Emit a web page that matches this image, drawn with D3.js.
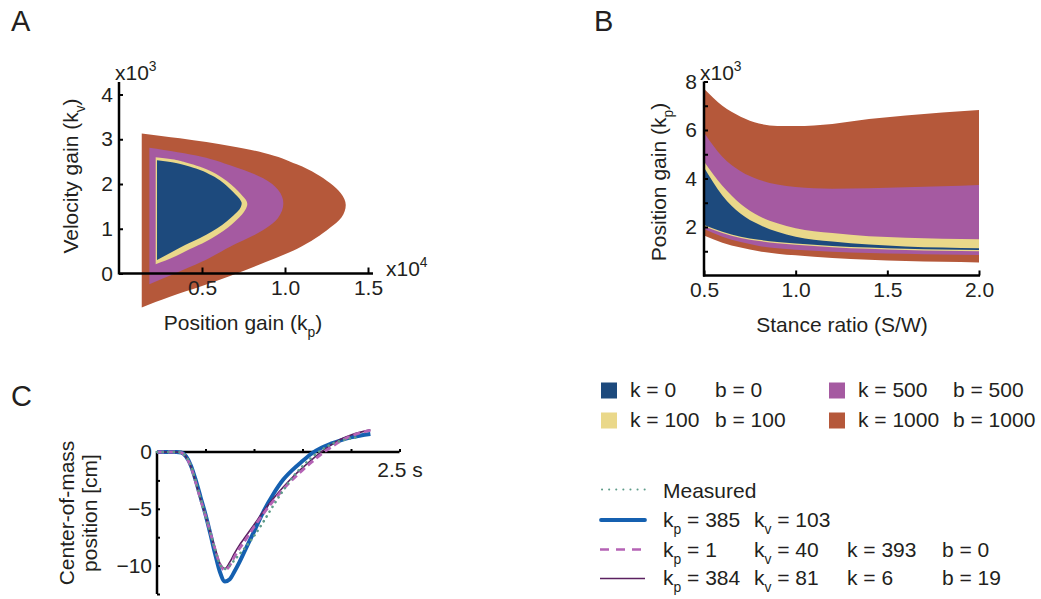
<!DOCTYPE html>
<html><head><meta charset="utf-8">
<script src="https://cdn.jsdelivr.net/npm/d3@7"></script>
<style>
body{margin:0;background:#fff}
text{font-family:"Liberation Sans",Arial,sans-serif;fill:#231f20}
</style>
</head><body><svg id="c" width="1041" height="599"></svg>
<script>
// ---------- DATA ----------
// Panel A : stability regions (kp in x10^4, kv in x10^3), boundary from top-left corner through tip to bottom-left corner
const orangeA_kp = [0.137,0.367,0.669,0.869,1.071,1.271,1.335,1.366,1.34,1.271,1.071,0.88,0.717,0.5,0.307,0.137];
const orangeA_kv = [3.13,3.02,2.85,2.70,2.44,2.02,1.8,1.53,1.25,1.02,0.55,0.25,0.01,-0.28,-0.52,-0.76];
const purpleA_kp = [0.183,0.498,0.669,0.869,0.958,0.99,0.958,0.869,0.669,0.498,0.337,0.183];
const purpleA_kv = [2.81,2.61,2.42,2.13,1.87,1.57,1.24,0.97,0.60,0.26,0.0,-0.24];
const yellowA_kp = [0.221,0.319,0.398,0.488,0.560,0.621,0.675,0.717,0.747,0.765,0.773,0.762,0.741,0.705,0.657,0.596,0.524,0.428,0.337,0.221];
const yellowA_kv = [2.597,2.552,2.487,2.384,2.273,2.139,1.989,1.844,1.721,1.642,1.553,1.430,1.318,1.184,1.028,0.872,0.715,0.547,0.380,0.206];
const blueA_kp = [0.229,0.319,0.398,0.488,0.560,0.621,0.669,0.705,0.729,0.739,0.729,0.705,0.669,0.621,0.560,0.488,0.398,0.319,0.229];
const blueA_kv = [2.530,2.485,2.420,2.313,2.190,2.045,1.888,1.754,1.654,1.569,1.453,1.352,1.229,1.084,0.939,0.793,0.637,0.480,0.302];
const ticksA_x = [0.5,1.0,1.5];
const ticksA_y = [0,1,2,3,4];

// Panel B : kp range (x10^3) vs stance ratio
const stanceB = [0.5,0.6,0.7,0.8,0.9,1.0,1.2,1.4,1.6,1.8,2.0];
const orangeB_hi = [7.7,7.0,6.55,6.27,6.17,6.16,6.25,6.45,6.6,6.72,6.82];
const orangeB_lo = [1.65,1.35,1.15,1.0,0.9,0.83,0.72,0.65,0.6,0.57,0.54];
const purpleB_hi = [5.9,4.9,4.3,3.95,3.75,3.65,3.58,3.6,3.64,3.68,3.73];
const purpleB_lo = [1.92,1.6,1.38,1.22,1.12,1.06,0.98,0.93,0.9,0.87,0.85];
const yellowB_hi = [4.7,3.7,2.95,2.45,2.15,1.95,1.75,1.62,1.56,1.52,1.5];
const yellowB_lo = [2.03,1.75,1.55,1.42,1.33,1.27,1.17,1.10,1.05,1.02,1.0];
const blueB_hi = [4.45,3.3,2.55,2.1,1.8,1.6,1.4,1.28,1.2,1.15,1.12];
const blueB_lo = [2.08,1.8,1.6,1.47,1.38,1.32,1.22,1.15,1.1,1.07,1.05];
const ticksB_x = [0.5,1.0,1.5,2.0];
const ticksB_y = [1,2,3,4,5,6,7,8];

// Panel C : center-of-mass position (cm) vs time (s)
const tC = [0,0.1,0.2,0.25,0.3,0.35,0.4,0.45,0.5,0.55,0.6,0.65,0.7,0.75,0.8,0.85,0.9,1.0,1.1,1.2,1.3,1.4,1.5,1.6,1.7,1.8,1.9,2.0,2.1,2.2];
const fitBlueC = [0,0,0,-0.05,-0.4,-1.2,-2.5,-4.0,-5.5,-7.2,-9.0,-10.6,-11.4,-11.2,-10.5,-9.7,-8.8,-7.0,-5.2,-3.7,-2.45,-1.55,-0.8,-0.1,0.4,0.75,1.05,1.3,1.45,1.58];
const fitMagentaC = [0,0,0,-0.05,-0.45,-1.3,-2.7,-4.2,-5.6,-7.1,-8.6,-9.9,-10.4,-10.0,-9.2,-8.5,-7.9,-6.6,-5.4,-4.3,-3.3,-2.4,-1.6,-0.85,-0.15,0.45,1.0,1.4,1.7,1.9];
const fitPurpleC = [0,0,0,-0.05,-0.45,-1.3,-2.7,-4.2,-5.6,-7.1,-8.5,-9.8,-10.25,-9.7,-8.9,-8.2,-7.6,-6.4,-5.2,-4.1,-3.1,-2.2,-1.4,-0.65,0.05,0.65,1.15,1.5,1.75,1.95];
const measuredC = [0,0,0,-0.05,-0.4,-1.2,-2.6,-4.1,-5.6,-7.1,-8.6,-9.9,-10.3,-10.0,-9.5,-9.0,-8.5,-7.4,-6.1,-4.7,-3.4,-2.2,-1.25,-0.45,0.2,0.7,1.0,1.2,1.35];
const ticksC_x = [0.5,1.0,1.5,2.0,2.5];
const ticksC_y = [0,-2.5,-5,-7.5,-10,-12.5];

// Legends
const regionLegendK = ["k = 0","k = 100","k = 500","k = 1000"];
const regionLegendB = ["b = 0","b = 100","b = 500","b = 1000"];
const lineLegend = [
  {kp:"", kv:"", k:"", b:"", label:"Measured"},
  {kp:" = 385", kv:" = 103", k:"", b:""},
  {kp:" = 1", kv:" = 40", k:"k = 393", b:"b = 0"},
  {kp:" = 384", kv:" = 81", k:"k = 6", b:"b = 19"}
];

// ---------- STYLE ----------
const COL = {blue:"#1d4a7d", yellow:"#ead88a", purple:"#a55aa1", orange:"#b5583a"};
const LINE = {measured:"#5e9c8a", blue:"#1560b0", magenta:"#b563b5", purple:"#5b2160"};
const FS = 21, FF = '"Liberation Sans",Arial,sans-serif', TXT = "#231f20";
const svg = d3.select("#c");
svg.append("rect").attr("width",1041).attr("height",599).attr("fill","#fff");

function addText(parent, x, y, segs, o={}) {
  const size = o.size || FS;
  const t = parent.append("text").attr("x",x).attr("y",y).attr("font-size",size)
    .attr("text-anchor", o.anchor || "start");
  if (o.rotate) t.attr("transform",`rotate(${o.rotate},${x},${y})`);
  let shift = 0;
  segs.forEach(s => {
    if (typeof s === "string") s = {t:s};
    const sp = t.append("tspan").text(s.t);
    if (s.sub) { const d = size*0.32; sp.attr("font-size",size*0.66).attr("dy", d - shift); shift = d; }
    else if (s.sup) { const d = -size*0.42; sp.attr("font-size",size*0.66).attr("dy", d - shift); shift = d; }
    else if (shift) { sp.attr("dy", -shift); shift = 0; }
  });
  return t;
}
function styleAxis(g) {
  g.attr("font-size",FS).attr("font-family",FF);
  g.select(".domain").remove();
  g.selectAll(".tick line").attr("stroke","#000").attr("stroke-width",2);
  g.selectAll(".tick text").attr("fill",TXT);
}

// panel letters
addText(svg, 11, 31, ["A"], {size:29});
addText(svg, 594, 31, ["B"], {size:29});
addText(svg, 11, 406, ["C"], {size:29});

// ---------- PANEL A ----------
const xA = d3.scaleLinear().domain([0,1.5]).range([119,368]);
const yA = d3.scaleLinear().domain([0,4]).range([273.5,94.5]);
const gA = svg.append("g");
const regionsA = [[orangeA_kp,orangeA_kv,COL.orange],[purpleA_kp,purpleA_kv,COL.purple],
                  [yellowA_kp,yellowA_kv,COL.yellow],[blueA_kp,blueA_kv,COL.blue]];
const lineA = d3.line().x(d=>xA(d[0])).y(d=>yA(d[1])).curve(d3.curveMonotoneY);
regionsA.forEach(([kp,kv,c]) => {
  const pts = kp.map((v,i)=>[v,kv[i]]);
  gA.append("path").attr("d", lineA(pts) + "Z").attr("fill", c);
});
const axAx = gA.append("g").attr("transform",`translate(0,${yA(0)})`)
  .call(d3.axisBottom(xA).tickValues(ticksA_x).tickFormat(d3.format(".1f")).tickSize(-6).tickPadding(7));
styleAxis(axAx);
const axAy = gA.append("g").attr("transform",`translate(${xA(0)},0)`)
  .call(d3.axisLeft(yA).tickValues(ticksA_y).tickFormat(d3.format("d")).tickSize(-4).tickPadding(6));
styleAxis(axAy);
gA.append("line").attr("x1",xA(0)).attr("x2",xA(1.53)).attr("y1",yA(0)).attr("y2",yA(0)).attr("stroke","#000").attr("stroke-width",2.5);
gA.append("line").attr("x1",xA(0)).attr("x2",xA(0)).attr("y1",yA(0)+1).attr("y2",yA(4.28)).attr("stroke","#000").attr("stroke-width",2.5);
addText(gA, 115, 80, ["x10",{t:"3",sup:true}]);
addText(gA, 386, 276, ["x10",{t:"4",sup:true}]);
addText(gA, 243, 330, ["Position gain (k",{t:"p",sub:true},")"], {anchor:"middle"});
addText(gA, 78, 176, ["Velocity gain (k",{t:"v",sub:true},")"], {anchor:"middle", rotate:-90});

// ---------- PANEL B ----------
const xB = d3.scaleLinear().domain([0.5,2.0]).range([704,979]);
const yB = d3.scaleLinear().domain([0,8]).range([275.5,81.5]);
const gB = svg.append("g");
const areaB = d3.area().x(d=>xB(d.s)).y0(d=>yB(d.lo)).y1(d=>yB(d.hi)).curve(d3.curveMonotoneX);
[[orangeB_lo,orangeB_hi,COL.orange],[purpleB_lo,purpleB_hi,COL.purple],
 [yellowB_lo,yellowB_hi,COL.yellow],[blueB_lo,blueB_hi,COL.blue]].forEach(([lo,hi,c]) => {
  gB.append("path").attr("d", areaB(stanceB.map((s,i)=>({s, lo:lo[i], hi:hi[i]})))).attr("fill",c);
});
const axBx = gB.append("g").attr("transform",`translate(0,${yB(0)})`)
  .call(d3.axisBottom(xB).tickValues(ticksB_x).tickFormat(d3.format(".1f")).tickSize(-5).tickPadding(7));
styleAxis(axBx);
const axBy = gB.append("g").attr("transform",`translate(${xB(0.5)},0)`)
  .call(d3.axisLeft(yB).tickValues(ticksB_y).tickFormat(d => d%2===0 ? d : "").tickSize(-4).tickPadding(7));
styleAxis(axBy);
gB.append("line").attr("x1",xB(0.5)-1).attr("x2",xB(2.0)+1).attr("y1",yB(0)).attr("y2",yB(0)).attr("stroke","#000").attr("stroke-width",2.5);
gB.append("line").attr("x1",xB(0.5)).attr("x2",xB(0.5)).attr("y1",yB(0)+1).attr("y2",yB(8)).attr("stroke","#000").attr("stroke-width",2.5);
addText(gB, 700, 80, ["x10",{t:"3",sup:true}]);
addText(gB, 842, 332, ["Stance ratio (S/W)"], {anchor:"middle"});
addText(gB, 666, 182, ["Position gain (k",{t:"p",sub:true},")"], {anchor:"middle", rotate:-90});

// ---------- PANEL C ----------
const xC = d3.scaleLinear().domain([0,2.5]).range([157,399.5]);
const yC = d3.scaleLinear().domain([0,-12.5]).range([452,594]);
const gC = svg.append("g");
const axCx = gC.append("g").attr("transform",`translate(0,${yC(0)})`)
  .call(d3.axisBottom(xC).tickValues(ticksC_x).tickFormat(d => d===2.5 ? "2.5 s" : "").tickSize(-3).tickPadding(10));
styleAxis(axCx);
const axCy = gC.append("g").attr("transform",`translate(${xC(0)},0)`)
  .call(d3.axisLeft(yC).tickValues(ticksC_y).tickFormat(d => d%5===0 ? d3.format("d")(d) : "").tickSize(-3).tickPadding(5));
styleAxis(axCy);
gC.append("line").attr("x1",xC(0)).attr("x2",xC(2.5)).attr("y1",yC(0)).attr("y2",yC(0)).attr("stroke","#000").attr("stroke-width",2.5);
gC.append("line").attr("x1",xC(0)).attr("x2",xC(0)).attr("y1",yC(0)-1).attr("y2",yC(-12.5)).attr("stroke","#000").attr("stroke-width",2.5);
const lineC = d3.line().x(d=>xC(d[0])).y(d=>yC(d[1])).curve(d3.curveMonotoneX);
const zipC = arr => arr.map((v,i)=>[tC[i],v]);
gC.append("path").attr("d",lineC(zipC(fitBlueC))).attr("fill","none").attr("stroke",LINE.blue).attr("stroke-width",4);
gC.append("path").attr("d",lineC(zipC(fitPurpleC))).attr("fill","none").attr("stroke",LINE.purple).attr("stroke-width",1.6);
gC.append("path").attr("d",lineC(zipC(fitMagentaC))).attr("fill","none").attr("stroke",LINE.magenta).attr("stroke-width",2.8).attr("stroke-dasharray","7,4");
gC.append("path").attr("d",lineC(zipC(measuredC))).attr("fill","none").attr("stroke",LINE.measured).attr("stroke-width",2.6).attr("stroke-linecap","round").attr("stroke-dasharray","0.1,5.5");
addText(gC, 74, 513, ["Center-of-mass"], {anchor:"middle", rotate:-90});
addText(gC, 97, 513, ["position [cm]"], {anchor:"middle", rotate:-90});

// ---------- LEGENDS ----------
const gL = svg.append("g");
const regionCols = [COL.blue, COL.yellow, COL.purple, COL.orange];
regionLegendK.forEach((k,i) => {
  const col = Math.floor(i/2), row = i%2;
  const sx = [601,829][col], ty = [397,427][row];
  gL.append("rect").attr("x",sx).attr("y",ty-14.5).attr("width",16).attr("height",16).attr("fill",regionCols[i]);
  addText(gL, [630,858][col], ty, [k]);
  addText(gL, [715,953][col], ty, [regionLegendB[i]]);
});
const lineRows = [498,527,557,585];
const lineYs = [489.5,520,549.5,578.5];
gL.append("line").attr("x1",602).attr("x2",645).attr("y1",lineYs[0]).attr("y2",lineYs[0]).attr("stroke",LINE.measured).attr("stroke-width",2).attr("stroke-linecap","round").attr("stroke-dasharray","0.1,7");
gL.append("line").attr("x1",601).attr("x2",645).attr("y1",lineYs[1]).attr("y2",lineYs[1]).attr("stroke",LINE.blue).attr("stroke-width",3.8).attr("stroke-linecap","round");
gL.append("line").attr("x1",600).attr("x2",645).attr("y1",lineYs[2]).attr("y2",lineYs[2]).attr("stroke",LINE.magenta).attr("stroke-width",2.5).attr("stroke-dasharray","9,7");
gL.append("line").attr("x1",600).attr("x2",645).attr("y1",lineYs[3]).attr("y2",lineYs[3]).attr("stroke",LINE.purple).attr("stroke-width",1.6);
lineLegend.forEach((r,i) => {
  const y = lineRows[i];
  if (r.label) { addText(gL, 663, y, [r.label]); return; }
  addText(gL, 663, y, ["k",{t:"p",sub:true},r.kp]);
  addText(gL, 754, y, ["k",{t:"v",sub:true},r.kv]);
  if (r.k) addText(gL, 847, y, [r.k]);
  if (r.b) addText(gL, 942, y, [r.b]);
});
</script>
</body></html>
